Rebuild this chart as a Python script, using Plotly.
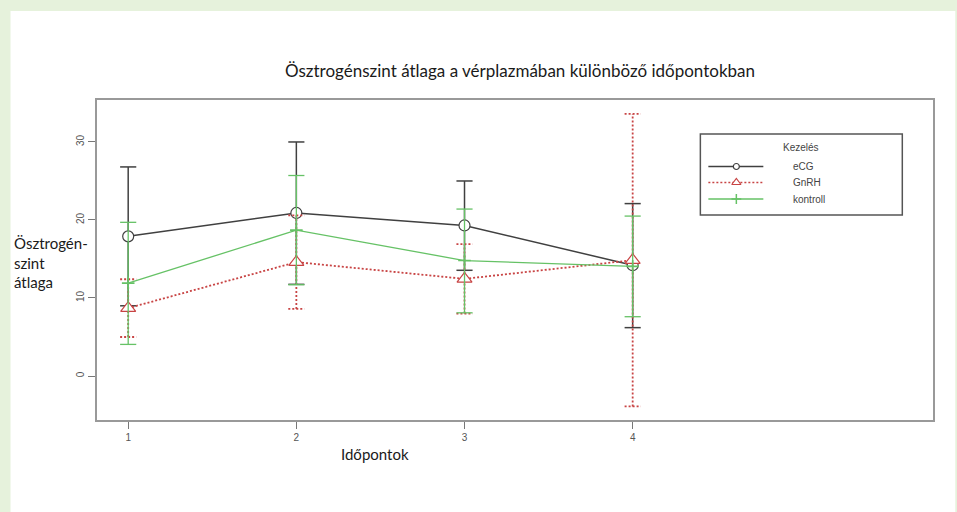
import plotly.graph_objects as go

# Measurement times
time_points = [1, 2, 3, 4]
time_labels = ["1", "2", "3", "4"]

# Mean oestrogen level per treatment and its error range (lower / upper)
ecg_mean = [17.9, 20.9, 19.3, 14.2]
ecg_low = [9.0, 11.75, 13.55, 6.2]
ecg_high = [26.8, 30.0, 25.0, 22.1]

gnrh_mean = [8.7, 14.6, 12.45, 14.85]
gnrh_low = [5.0, 8.6, 8.0, -3.9]
gnrh_high = [12.4, 20.6, 16.9, 33.6]

kontroll_mean = [11.9, 18.7, 14.8, 14.05]
kontroll_low = [4.05, 11.7, 8.1, 7.6]
kontroll_high = [19.7, 25.7, 21.4, 20.5]

y_ticks = [0, 10, 20, 30]

series = [
    dict(name="eCG", mean=ecg_mean, low=ecg_low, high=ecg_high,
         color="#404040", dash="solid", width=1.5,
         symbol="circle", msize=11),
    dict(name="GnRH", mean=gnrh_mean, low=gnrh_low, high=gnrh_high,
         color="#c84444", dash="2px,2px", width=1.8,
         symbol="triangle-up", msize=13),
    dict(name="kontroll", mean=kontroll_mean, low=kontroll_low, high=kontroll_high,
         color="#66c266", dash="solid", width=1.3,
         symbol="cross-thin", msize=9),
]

CAP = 0.048  # half width of the error bar caps, in x units


def error_bar_path(xs, lows, highs):
    px, py = [], []
    for x, lo, hi in zip(xs, lows, highs):
        px += [x, x, None, x - CAP, x + CAP, None, x - CAP, x + CAP, None]
        py += [lo, hi, None, hi, hi, None, lo, lo, None]
    return px, py


fig = go.Figure()

for s in series:
    ex, ey = error_bar_path(time_points, s["low"], s["high"])
    fig.add_trace(go.Scatter(
        x=ex, y=ey, mode="lines", showlegend=False, hoverinfo="skip",
        line=dict(color=s["color"], width=s["width"], dash=s["dash"]),
    ))
    if s["symbol"] == "cross-thin":
        marker = dict(symbol="cross-thin", size=s["msize"],
                      line=dict(color=s["color"], width=1.6))
    else:
        marker = dict(symbol=s["symbol"], size=s["msize"], color="white",
                      line=dict(color=s["color"], width=1.2))
    fig.add_trace(go.Scatter(
        x=time_points, y=s["mean"], mode="lines+markers", name=s["name"],
        showlegend=False,
        line=dict(color=s["color"], width=s["width"], dash=s["dash"]),
        marker=marker,
    ))

# Plot area geometry in pixels (page is 957 x 512)
L, R, T, B = 96.5, 932.7, 100.0, 420.0
W, H = R - L, B - T


def px_x(p):
    return (p - L) / W


def px_y(p):
    return (B - p) / H


# Legend box drawn on a helper axis pair whose units are pixels
LEG_X0, LEG_X1, LEG_Y0, LEG_Y1 = 700, 902, 134, 215
legend_rows = [166.5, 182.5, 199.0]
for s, row in zip(series, legend_rows):
    fig.add_trace(go.Scatter(
        x=[708, 763], y=[row, row], mode="lines", xaxis="x2", yaxis="y2",
        showlegend=False, hoverinfo="skip",
        line=dict(color=s["color"], width=1.3, dash=s["dash"]),
    ))
    if s["symbol"] == "cross-thin":
        lm = dict(symbol="cross-thin", size=7, line=dict(color=s["color"], width=1.5))
    else:
        lm = dict(symbol=s["symbol"], size=6 if s["symbol"] == "circle" else 8,
                  color="white", line=dict(color=s["color"], width=1.2))
    fig.add_trace(go.Scatter(
        x=[736], y=[row], mode="markers", xaxis="x2", yaxis="y2",
        showlegend=False, hoverinfo="skip", marker=lm,
    ))

legend_font = dict(family="Liberation Sans, Arial, sans-serif", size=10, color="#444")
annotations = [
    dict(x=801, y=147, xref="x2", yref="y2", text="Kezelés", showarrow=False,
         xanchor="center", yanchor="middle", font=legend_font),
]
for s, row in zip(series, legend_rows):
    annotations.append(dict(x=791, y=row, xref="x2", yref="y2", text=s["name"],
                            showarrow=False, xanchor="left", yanchor="middle",
                            font=legend_font))

label_font = dict(family="Lato, sans-serif", size=15, color="#1a1a1a")
annotations += [
    dict(x=px_x(375), y=px_y(454), xref="paper", yref="paper", text="Időpontok",
         showarrow=False, xanchor="center", yanchor="middle", font=label_font),
    dict(x=px_x(11), y=px_y(262), xref="paper", yref="paper",
         text="Ösztrogén-<br>szint<br>átlaga", showarrow=False,
         xanchor="left", yanchor="middle", align="left", font=label_font),
]

shapes = [
    # white page inside the green frame
    dict(type="rect", xref="paper", yref="paper", layer="below",
         x0=px_x(10), x1=px_x(955), y0=px_y(520), y1=px_y(11),
         fillcolor="white", line=dict(width=0)),
    # legend frame
    dict(type="rect", xref="x2", yref="y2", x0=LEG_X0, x1=LEG_X1,
         y0=LEG_Y0, y1=LEG_Y1, line=dict(color="#555", width=1.5)),
]

tick_font = dict(family="Liberation Sans, Arial, sans-serif", size=10, color="#555")

fig.update_layout(
    width=957, height=512,
    margin=dict(l=L, r=957 - R, t=T, b=512 - B),
    paper_bgcolor="#e6f2dc",
    plot_bgcolor="white",
    title=dict(
        text="Ösztrogénszint átlaga a vérplazmában különböző időpontokban",
        x=520 / 957, xref="container", xanchor="center",
        y=1 - 71 / 512, yref="container", yanchor="middle",
        font=dict(family="Lato, sans-serif", size=17, color="#1a1a1a"),
    ),
    xaxis=dict(
        range=[0.8145, 5.786], tickvals=time_points, ticktext=time_labels,
        showgrid=False, zeroline=False, showline=True, mirror=True,
        linecolor="#999999", linewidth=2,
        ticks="outside", ticklen=7, tickcolor="#777", tickwidth=1,
        tickfont=tick_font,
    ),
    yaxis=dict(
        range=[-5.64, 35.38], tickvals=y_ticks,
        showgrid=False, zeroline=False, showline=True, mirror=True,
        linecolor="#999999", linewidth=2,
        ticks="outside", ticklen=7, tickcolor="#777", tickwidth=1,
        tickangle=-90, tickfont=tick_font,
    ),
    xaxis2=dict(domain=[px_x(LEG_X0 - 2), px_x(LEG_X1 + 2)],
                range=[LEG_X0 - 2, LEG_X1 + 2], anchor="y2",
                visible=False, fixedrange=True),
    yaxis2=dict(domain=[px_y(LEG_Y1 + 2), px_y(LEG_Y0 - 2)],
                range=[LEG_Y1 + 2, LEG_Y0 - 2], anchor="x2",
                visible=False, fixedrange=True),
    annotations=annotations,
    shapes=shapes,
    showlegend=False,
)

fig.write_html("out.html")
